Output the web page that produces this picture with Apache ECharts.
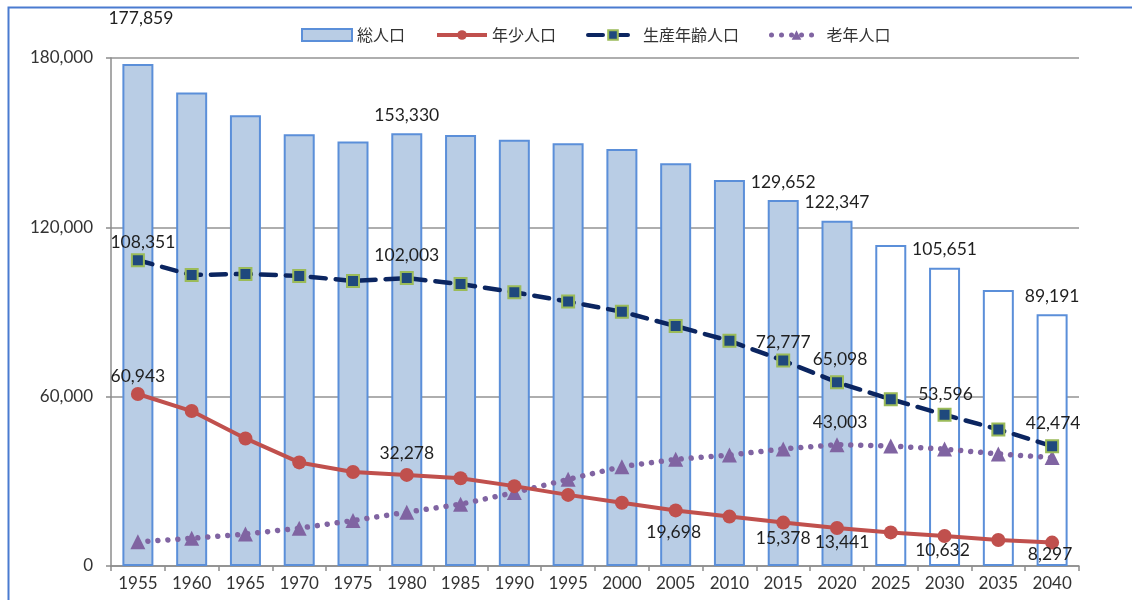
<!DOCTYPE html>
<html>
<head>
<meta charset="utf-8">
<script src="https://cdn.jsdelivr.net/npm/echarts@6/dist/echarts.min.js"></script>
<style>
html,body{margin:0;padding:0;background:#fff;}
#chart{width:1132px;height:600px;}
</style>
</head>
<body>
<div id="chart"></div>
<script>
// ---- data ----
const years = ['1955','1960','1965','1970','1975','1980','1985','1990','1995','2000','2005','2010','2015','2020','2025','2030','2035','2040'];
const total = [177859,167800,159700,153000,150400,153330,152700,151000,149800,147800,142700,136800,129652,122347,113700,105651,97800,89191];
const youth = [60943,54900,45200,36700,33300,32278,31100,28300,25200,22400,19698,17500,15378,13441,11900,10632,9200,8297];
const working = [108351,103100,103500,102800,101000,102003,99900,97000,93700,90100,85000,79800,72777,65098,59100,53596,48400,42474];
const elderly = [8565,9800,11300,13400,16100,19049,21900,26000,30700,35200,37800,39300,41497,43003,42500,41423,39700,38420];
const seriesNames = ['総人口','年少人口','生産年齢人口','老年人口'];
const yTicks = [0, 60000, 120000, 180000];
const projectionFrom = '2025';

// ---- label placement (which points are labelled, offsets) ----
const totalLabelOffsets = {0:[3,-28], 5:[0,0], 12:[0,0], 13:[0,0], 15:[0,0], 17:[0,0]};
const workingLabelOffsets = {0:[5,-18], 5:[0,-23], 12:[0,-18], 13:[3,-23], 15:[1,-20], 17:[1,-23]};
const youthLabelOffsets = {0:[0,-18], 5:[0,-22], 10:[-2,22], 12:[0,16], 13:[5,14], 15:[-2,14], 17:[-2,12]};
const elderlyLabelOffsets = {13:[3,-22]};

const fmt = v => v.toLocaleString('en-US');
const labelFont = {fontFamily:'Lato', fontSize:17.5, color:'#1f1f1f'};
const projIdx = years.indexOf(projectionFrom);

const C_BAR = '#B9CDE5', C_BAR_B = '#5B8FD9', C_Y = '#C0504D', C_W = '#0B2560', C_E = '#8064A2';

const barData = total.map((v,i) => {
  const d = {value:v, itemStyle:{color: i >= projIdx ? '#ffffff' : C_BAR}};
  if (totalLabelOffsets[i]) {
    d.label = Object.assign({show:true, position:'top', distance:9, offset:totalLabelOffsets[i], formatter: p => fmt(p.value)}, labelFont);
  }
  return d;
});
function lineData(arr, offs){
  return arr.map((v,i) => {
    const d = {value:v};
    if (offs[i]) {
      d.label = Object.assign({show:true, position:'inside', offset:offs[i], formatter: p => fmt(p.value)}, labelFont);
    }
    return d;
  });
}

const chart = echarts.init(document.getElementById('chart'), null, {renderer:'canvas'});
chart.setOption({
  animation:false,
  backgroundColor:'#ffffff',
  graphic:[{type:'rect', left:6, top:5, shape:{width:1150, height:620}, style:{fill:'none', stroke:'#4A7BD0', lineWidth:2}, silent:true}],
  legend:{
    top:22, left:296, itemWidth:50, itemHeight:12, itemGap:30,
    textStyle:{fontFamily:'Noto Sans CJK JP', fontSize:16, color:'#333'},
    data:[
      {name:seriesNames[0], icon:'rect'},
      {name:seriesNames[1], lineStyle:{width:4}},
      {name:seriesNames[2], lineStyle:{width:4}},
      {name:seriesNames[3], lineStyle:{width:5}}
    ]
  },
  grid:{left:111, right:53, top:58, bottom:34, containLabel:false},
  xAxis:{
    type:'category', data:years, boundaryGap:true,
    axisLine:{lineStyle:{color:'#8C8C8C', width:1.5}},
    axisTick:{show:true, length:5, lineStyle:{color:'#8C8C8C', width:1.5}},
    axisLabel:{margin:9, fontFamily:'Lato', fontSize:17, color:'#333'}
  },
  yAxis:{
    type:'value', min:0, max:180000, interval:60000,
    axisLine:{show:true, lineStyle:{color:'#8C8C8C', width:1.5}},
    axisTick:{show:true, length:5, lineStyle:{color:'#8C8C8C', width:1.5}},
    splitLine:{lineStyle:{color:'#939393', width:1.5}},
    axisLabel:{margin:18, fontFamily:'Lato', fontSize:17, color:'#333', formatter: v => yTicks.includes(v) ? fmt(v) : ''}
  },
  series:[
    {name:seriesNames[0], type:'bar', data:barData, barWidth:31,
     itemStyle:{color:C_BAR, borderColor:C_BAR_B, borderWidth:2}, z:1},
    {name:seriesNames[1], type:'line', data:lineData(youth, youthLabelOffsets),
     symbol:'circle', symbolSize:14, itemStyle:{color:C_Y},
     lineStyle:{color:C_Y, width:4}, z:4},
    {name:seriesNames[2], type:'line', data:lineData(working, workingLabelOffsets),
     symbol:'rect', symbolSize:12, itemStyle:{color:'#1F497D', borderColor:'#9BBB59', borderWidth:2},
     lineStyle:{color:C_W, width:4.5, type:[15,10], cap:'round'}, z:3},
    {name:seriesNames[3], type:'line', data:lineData(elderly, elderlyLabelOffsets),
     symbol:'triangle', symbolSize:15, itemStyle:{color:C_E},
     lineStyle:{color:C_E, width:5.5, type:[0.01,10], cap:'round'}, z:2}
  ]
});
</script>
</body>
</html>
